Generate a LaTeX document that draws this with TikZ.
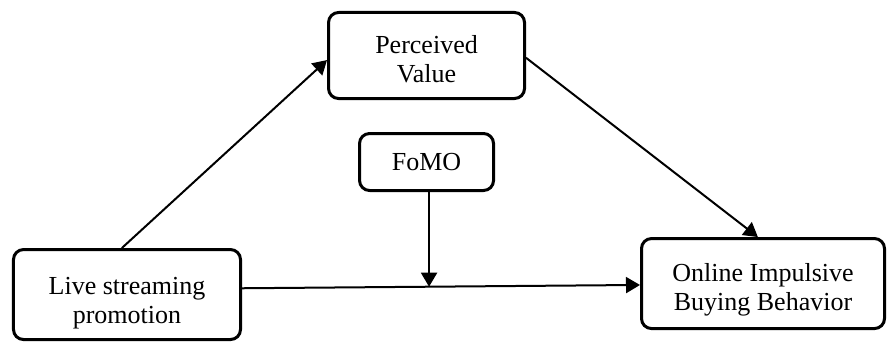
\documentclass[tikz,border=0pt]{standalone}
\usepackage{fontspec}
\setmainfont{Liberation Serif}
\usetikzlibrary{arrows.meta,calc}

\begin{document}
\begin{tikzpicture}[x=1cm,y=1cm,line join=round,font=\fontsize{13}{14.5}\selectfont,
    varbox/.style={draw,line width=1.5pt,rounded corners=5pt,align=center,inner sep=2pt},
    link/.style={-{Triangle[length=7pt,width=8pt]},line width=1pt}]
  \useasboundingbox (0,0) rectangle (15.6,6.026);
  % variables
  \node[varbox,minimum width=3.988cm,minimum height=1.581cm] (live) at (2.231,0.852)
    {\rule{0pt}{17.5pt}Live streaming\\promotion};
  \node[varbox,minimum width=3.443cm,minimum height=1.511cm] (perceived) at (7.493,5.051)
    {\rule{0pt}{12.5pt}Perceived\\Value};
  \node[varbox,minimum width=2.354cm,minimum height=1.001cm] (fomo) at (7.493,3.180) {FoMO};
  \node[varbox,minimum width=4.269cm,minimum height=1.581cm] (online) at (13.404,1.045)
    {\rule{0pt}{15.5pt}Online Impulsive\\Buying Behavior};
  % paths
  \coordinate (src) at ([yshift=0.11cm]live.east);
  \coordinate (dst) at ([yshift=-0.025cm]online.west);
  \coordinate (join) at ($(src)!0.47!(dst)$);
  \draw[link] ([xshift=-0.09cm]live.north) -- ([yshift=-0.08cm]perceived.west);
  \draw[link] ([yshift=-0.04cm]perceived.east) -- ([xshift=-0.09cm]online.north);
  \draw[link] (src) -- (dst);
  \draw[link] (join |- fomo.south) -- (join);
\end{tikzpicture}
\end{document}
